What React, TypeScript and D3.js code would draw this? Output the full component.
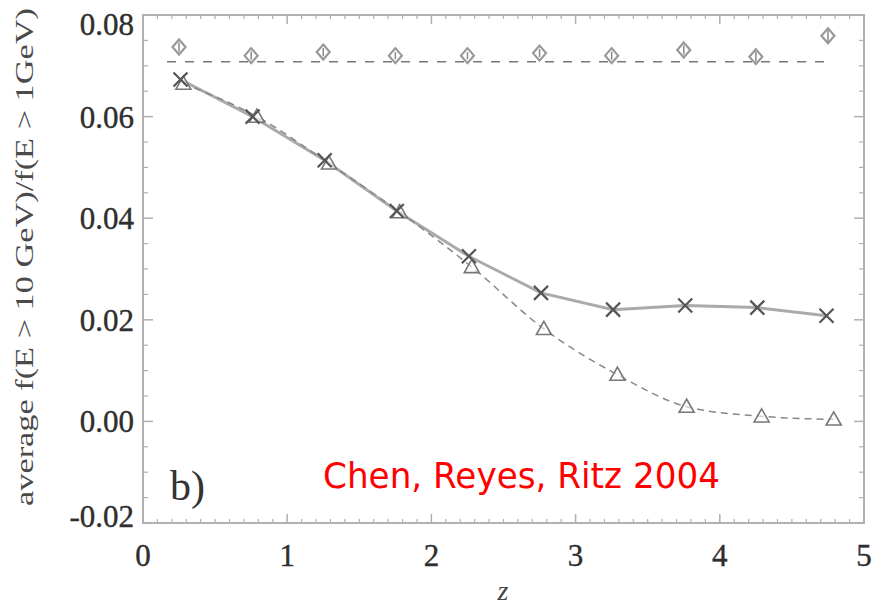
import React from "react";
import * as d3 from "d3";

const W = 875;
const H = 606;

const xTicks = [0, 1, 2, 3, 4, 5];
const yTicks = [-0.02, 0.0, 0.02, 0.04, 0.06, 0.08];
const yTickLabels = ["-0.02", "0.00", "0.02", "0.04", "0.06", "0.08"];

const zDiamond = [0.25, 0.75, 1.25, 1.75, 2.25, 2.75, 3.25, 3.75, 4.25, 4.75];
const diamondVals = [0.0737, 0.072, 0.0727, 0.072, 0.072, 0.0725, 0.072, 0.0731, 0.0718, 0.0759];
const diamondErr = [0.0009, 0.0008, 0.0008, 0.0007, 0.0007, 0.0008, 0.0008, 0.0009, 0.001, 0.0014];
const meanLevel = 0.0708;

const zCross = [0.26, 0.76, 1.26, 1.76, 2.26, 2.76, 3.26, 3.76, 4.26, 4.74];
const crossVals = [0.0673, 0.06, 0.0514, 0.0414, 0.0325, 0.0253, 0.022, 0.0228, 0.0224, 0.0208];

const zTri = [0.28, 0.79, 1.29, 1.78, 2.28, 2.78, 3.29, 3.77, 4.29, 4.79];
const triVals = [0.0665, 0.06, 0.0508, 0.0412, 0.0304, 0.0182, 0.0092, 0.0029, 0.001, 0.0004];

const yLabel = "average f(E > 10 GeV)/f(E > 1GeV)";
const xLabel = "z";
const panelLabel = "b)";
const credit = "Chen, Reyes, Ritz 2004";

export default function App() {
  const x = d3.scaleLinear().domain([0, 5]).range([143, 864]);
  const y = d3.scaleLinear().domain([-0.02, 0.08]).range([523, 15]);
  const [x0, x1] = x.range();
  const [y0, y1] = y.range();

  const xMinor = d3.range(0, 50).map((i) => i / 10).filter((v) => Math.abs(v - Math.round(v)) > 1e-6);
  const yMinor = d3.range(-0.02, 0.0801, 0.005).filter((v) => Math.abs(v / 0.02 - Math.round(v / 0.02)) > 1e-6);

  const crossLine = d3
    .line<number>()
    .x((_, i) => x(zCross[i]))
    .y((d) => y(d))(crossVals) as string;
  const triLine = d3
    .line<number>()
    .x((_, i) => x(zTri[i]))
    .y((d) => y(d))
    .curve(d3.curveMonotoneX)(triVals) as string;

  const axisCol = "#b0b0b0";
  const textCol = "#2e2e2e";
  const serif = "Liberation Serif, Times New Roman, serif";

  return (
    <svg width={W} height={H} style={{ position: "absolute", left: 0, top: 0, background: "#fff" }}>
      <rect x={x0} y={y1} width={x1 - x0} height={y0 - y1} fill="none" stroke={axisCol} strokeWidth={2} />
      {xTicks.map((t) => (
        <g key={"xt" + t}>
          <line x1={x(t)} x2={x(t)} y1={y0} y2={y0 - 9} stroke={axisCol} strokeWidth={1.5} />
          <line x1={x(t)} x2={x(t)} y1={y1} y2={y1 + 9} stroke={axisCol} strokeWidth={1.5} />
          <text x={x(t)} y={566} textAnchor="middle" fontFamily={serif} fontSize={31} fill={textCol} stroke={textCol} strokeWidth={0.4}>
            {t}
          </text>
        </g>
      ))}
      {xMinor.map((t) => (
        <g key={"xm" + t}>
          <line x1={x(t)} x2={x(t)} y1={y0} y2={y0 - 4} stroke={axisCol} strokeWidth={1.2} />
          <line x1={x(t)} x2={x(t)} y1={y1} y2={y1 + 4} stroke={axisCol} strokeWidth={1.2} />
        </g>
      ))}
      {yTicks.map((t, i) => {
        let ly = y(t) + 11;
        if (i === yTicks.length - 1) ly = y(t) + 20;
        if (i === 0) ly = y(t) + 4;
        return (
          <g key={"yt" + t}>
            <line x1={x0} x2={x0 + 10} y1={y(t)} y2={y(t)} stroke={axisCol} strokeWidth={1.5} />
            <line x1={x1} x2={x1 - 10} y1={y(t)} y2={y(t)} stroke={axisCol} strokeWidth={1.5} />
            <text x={134} y={ly} textAnchor="end" fontFamily={serif} fontSize={31} fill={textCol} stroke={textCol} strokeWidth={0.4}>
              {yTickLabels[i]}
            </text>
          </g>
        );
      })}
      {yMinor.map((t) => (
        <g key={"ym" + t}>
          <line x1={x0} x2={x0 + 5} y1={y(t)} y2={y(t)} stroke={axisCol} strokeWidth={1.2} />
          <line x1={x1} x2={x1 - 5} y1={y(t)} y2={y(t)} stroke={axisCol} strokeWidth={1.2} />
        </g>
      ))}

      <text
        transform={`translate(33, ${257}) rotate(-90)`}
        textAnchor="middle"
        fontFamily={serif}
        fontSize={25}
        fill="#4a4a4a"
        textLength={498}
        lengthAdjust="spacingAndGlyphs"
      >
        {yLabel}
      </text>
      <text x={503} y={600} textAnchor="middle" fontFamily={serif} fontStyle="italic" fontSize={28} fill="#444">
        {xLabel}
      </text>

      <line
        x1={x(zDiamond[0]) - 12}
        x2={x(zDiamond[zDiamond.length - 1])}
        y1={y(meanLevel)}
        y2={y(meanLevel)}
        stroke="#777"
        strokeWidth={1.5}
        strokeDasharray="9 9"
      />

      <path d={crossLine} fill="none" stroke="#aaa" strokeWidth={3} />
      <path d={triLine} fill="none" stroke="#888" strokeWidth={1.5} strokeDasharray="7 5" />

      {diamondVals.map((v, i) => {
        const cx = x(zDiamond[i]);
        const cy = y(v);
        const rx = 6.5;
        const ry = 7.5;
        return (
          <g key={"d" + i}>
            <line x1={cx} x2={cx} y1={y(v + diamondErr[i])} y2={y(v - diamondErr[i])} stroke="#888" strokeWidth={1.5} />
            <path
              d={`M${cx},${cy - ry} L${cx + rx},${cy} L${cx},${cy + ry} L${cx - rx},${cy} Z`}
              fill="none"
              stroke="#999"
              strokeWidth={2.2}
            />
          </g>
        );
      })}

      {triVals.map((v, i) => {
        const cx = x(zTri[i]);
        const cy = y(v);
        const s = 7.5;
        return (
          <path
            key={"t" + i}
            d={`M${cx},${cy - s} L${cx + s},${cy + s * 0.75} L${cx - s},${cy + s * 0.75} Z`}
            fill="white"
            fillOpacity={0.6}
            stroke="#777"
            strokeWidth={1.6}
          />
        );
      })}

      {crossVals.map((v, i) => {
        const cx = x(zCross[i]);
        const cy = y(v);
        const s = 7;
        return (
          <path
            key={"c" + i}
            d={`M${cx - s},${cy - s} L${cx + s},${cy + s} M${cx + s},${cy - s} L${cx - s},${cy + s}`}
            stroke="#555"
            strokeWidth={2.2}
          />
        );
      })}

      <text x={170} y={500} fontFamily={serif} fontSize={42} fill="#333">
        {panelLabel}
      </text>

      <text
        x={323}
        y={488}
        fontFamily="Comic Sans MS, DejaVu Sans, sans-serif"
        fontSize={35}
        fill="#ff0000"
        textLength={397}
        lengthAdjust="spacingAndGlyphs"
      >
        {credit}
      </text>
    </svg>
  );
}
